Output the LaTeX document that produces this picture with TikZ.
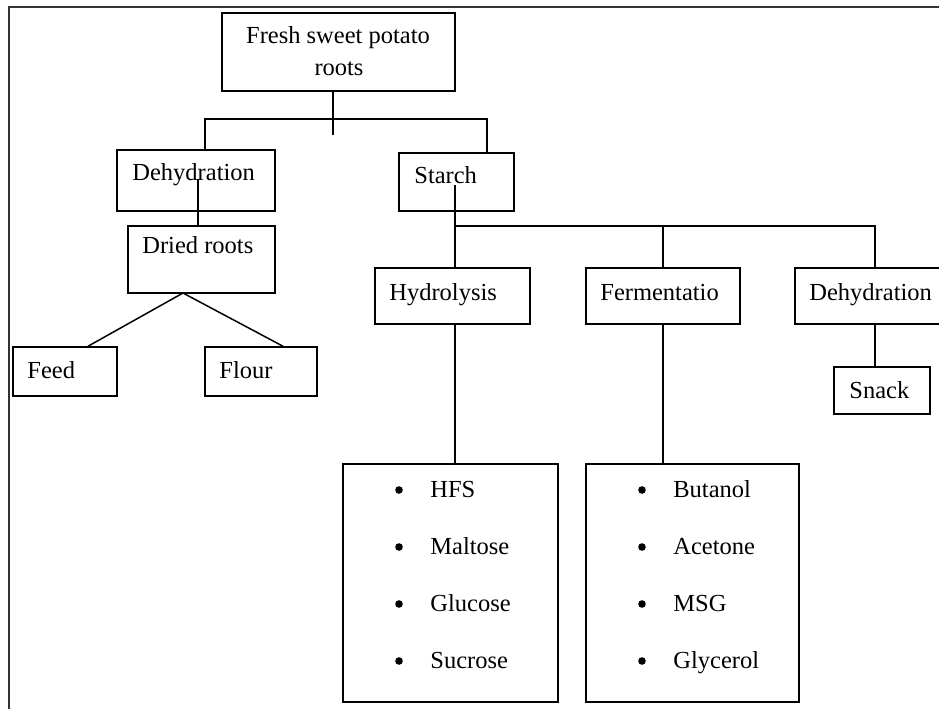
\documentclass[tikz,border=0pt]{standalone}
\usepackage{fontspec}
\setmainfont{Liberation Serif}
\usetikzlibrary{fit}

\tikzset{
  box/.style={draw, line width=0.75pt, inner sep=0pt},
  lbl/.style={anchor=base west, inner sep=0pt, font=\fontsize{12.25}{14}\selectfont},
  link/.style={line width=0.75pt},
  bullet/.style={circle, fill, inner sep=0pt, minimum size=3.8pt},
}

\begin{document}
\begin{tikzpicture}[x=0.5pt,y=-0.5pt]
\useasboundingbox (0,0) rectangle (939,709);
\clip (0,0) rectangle (939,709);
\draw [line width=1pt,black!80](9,709) -- (9,7) -- (939,7);

% boxes
\node[box, fit={(222,13) (455,91)}] (root) {};
\node[box, fit={(117,150) (275,211)}] (dehydL) {};
\node[box, fit={(399,153) (514,211)}] (starch) {};
\node[box, fit={(128,226) (275,293)}] (dried) {};
\node[box, fit={(13,347) (117,396)}] (feed) {};
\node[box, fit={(205,347) (317,396)}] (flour) {};
\node[box, fit={(375,268) (530,324)}] (hydro) {};
\node[box, fit={(586,268) (740,324)}] (ferment) {};
\node[box, fit={(795,268) (960,324)}] (dehydR) {};
\node[box, fit={(834,367) (930,414)}] (snack) {};
\node[box, fit={(343,464) (558,702)}] (sugars) {};
\node[box, fit={(586,464) (799,702)}] (chems) {};

% texts
\node[lbl, anchor=base] (rootA) at (338,43) {Fresh sweet potato};
\node[lbl, anchor=base] (rootB) at (339,75) {roots};
\node[lbl] (dehydLt) at (132,180) {Dehydration};
\node[lbl] (starcht) at (414,183) {Starch};
\node[lbl] (driedt) at (142,253) {Dried roots};
\node[lbl] (feedt) at (27,378) {Feed};
\node[lbl] (flourt) at (219,378) {Flour};
\node[lbl] (hydrot) at (389,300) {Hydrolysis};
\node[lbl] (fermentt) at (600,300) {Fermentatio};
\node[lbl] (dehydRt) at (809,300) {Dehydration};
\node[lbl] (snackt) at (849,398) {Snack};

% product lists
\node[bullet] (b1) at (399,490) {};
\node[lbl] (hfs) at (430,497) {HFS};
\node[bullet] (b2) at (399,547) {};
\node[lbl] (maltose) at (430,554) {Maltose};
\node[bullet] (b3) at (399,604) {};
\node[lbl] (glucose) at (430,611) {Glucose};
\node[bullet] (b4) at (399,661) {};
\node[lbl] (sucrose) at (430,668) {Sucrose};
\node[bullet] (b5) at (642,490) {};
\node[lbl] (butanol) at (673,497) {Butanol};
\node[bullet] (b6) at (642,547) {};
\node[lbl] (acetone) at (673,554) {Acetone};
\node[bullet] (b7) at (642,604) {};
\node[lbl] (msg) at (673,611) {MSG};
\node[bullet] (b8) at (642,661) {};
\node[lbl] (glycerol) at (673,668) {Glycerol};

% joints
\coordinate (rootdrop) at (333,135);
\coordinate (jl) at (205,119);
\coordinate (jr) at (487,119);
\coordinate (dl) at (198,179);
\coordinate (apex) at (183,293);
\coordinate (feedtop) at (88,347);
\coordinate (flourtop) at (283,347);
\coordinate (stop) at (455,185);
\coordinate (sj) at (455,226);
\coordinate (fj) at (663,226);
\coordinate (dj) at (875,226);

% connectors
\draw [link](root.south -| rootdrop) -- (rootdrop);
\draw [link](dehydL.north -| jl) |- (jr) -- (starch.north -| jr);
\draw [link](dl) -- (dried.north -| dl);
\draw [link](feed.north -| feedtop) -- (apex) -- (flour.north -| flourtop);
\draw [link](stop) -- (hydro.north -| sj);
\draw [link](sj) -- (dj) -- (dehydR.north -| dj);
\draw [link](fj) -- (ferment.north -| fj);
\draw [link](hydro.south -| sj) -- (sugars.north -| sj);
\draw [link](ferment.south -| fj) -- (chems.north -| fj);
\draw [link](dehydR.south -| dj) -- (snack.north -| dj);
\end{tikzpicture}
\end{document}
